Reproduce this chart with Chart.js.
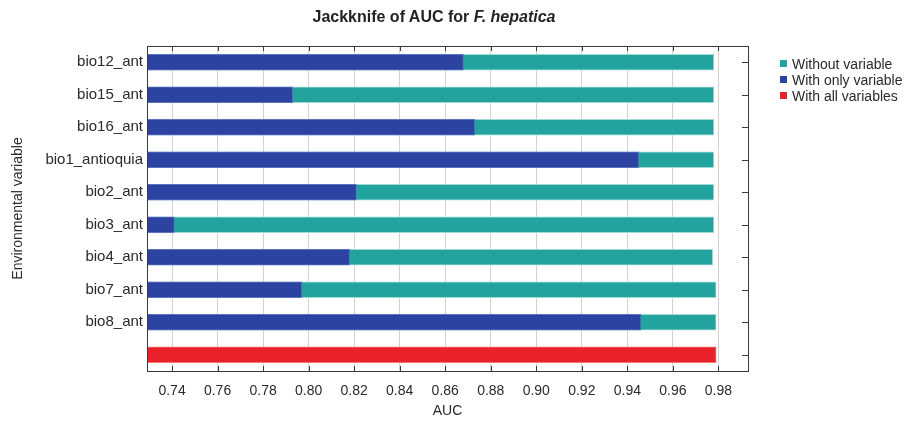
<!DOCTYPE html>
<html>
<head>
<meta charset="utf-8">
<title>Jackknife of AUC</title>
<script src="https://cdn.jsdelivr.net/npm/chart.js@4.4.1/dist/chart.umd.min.js"></script>
<style>
    body { margin: 0; background: #fff; font-family: Arial, "Liberation Sans", sans-serif; }
    #wrap { position: relative; width: 916px; height: 423px; }
    #title { position: absolute; left: 0; top: 8px; width: 868px; text-align: center; font-weight: bold; font-size: 16px; color: #222; }
    #legend { position: absolute; left: 780px; top: 56px; font-size: 14px; color: #2a2a2a; }
    #legend div { height: 16px; line-height: 16px; white-space: nowrap; }
    #legend span { display: inline-block; width: 7px; height: 7px; margin-right: 5px; vertical-align: 2px; }
</style>
</head>
<body>
<div id="wrap">
    <div id="title">Jackknife of AUC for <i>F. hepatica</i></div>
    <canvas id="chart" width="916" height="423"></canvas>
    <div id="legend"></div>
</div>
<script>
const variables = ['bio12_ant', 'bio15_ant', 'bio16_ant', 'bio1_antioquia', 'bio2_ant', 'bio3_ant', 'bio4_ant', 'bio7_ant', 'bio8_ant'];
const withoutVariable = [0.978, 0.978, 0.978, 0.978, 0.978, 0.978, 0.9775, 0.979, 0.979];
const withOnlyVariable = [0.868, 0.793, 0.873, 0.945, 0.821, 0.741, 0.818, 0.797, 0.946];
const withAllVariables = 0.979;

const seriesNames = ['Without variable', 'With only variable', 'With all variables'];
const seriesColors = ['#22a39e', '#2c43a1', '#e8212a'];

// last row holds the "all variables" bar, with no label
const labels = [...variables, ''];
const allRow = labels.map((l, i) => (i === variables.length ? withAllVariables : null));

Chart.defaults.font.family = 'Arial, "Liberation Sans", sans-serif';
Chart.defaults.color = '#2a2a2a';

const framePlugin = {
    id: 'frame',
    afterDraw(chart) {
        const { ctx, chartArea: a, scales } = chart;
        ctx.save();
        ctx.strokeStyle = '#3a3a3a';
        ctx.lineWidth = 1;
        ctx.strokeRect(Math.round(a.left) + 0.5, Math.round(a.top) + 0.5, Math.round(a.width), Math.round(a.height));
        ctx.beginPath();
        scales.x.ticks.forEach((t) => {
            const x = Math.round(scales.x.getPixelForValue(t.value)) + 0.5;
            ctx.moveTo(x, a.top);
            ctx.lineTo(x, a.top + 5);
            ctx.moveTo(x, a.bottom);
            ctx.lineTo(x, a.bottom - 5);
        });
        scales.y.ticks.forEach((t, i) => {
            const y = Math.round(scales.y.getPixelForTick(i)) + 0.5;
            ctx.moveTo(a.right, y);
            ctx.lineTo(a.right - 6, y);
        });
        ctx.stroke();
        ctx.restore();
    },
};

const ctx = document.getElementById('chart').getContext('2d');
new Chart(ctx, {
    type: 'bar',
    data: {
        labels: labels,
        datasets: [
            {
                label: seriesNames[0],
                data: [...withoutVariable, null],
                backgroundColor: seriesColors[0],
                borderColor: '#9fdcd8',
                borderWidth: 1,
                order: 1,
            },
            {
                label: seriesNames[1],
                data: [...withOnlyVariable, null],
                backgroundColor: seriesColors[1],
                borderColor: '#5d73c0',
                borderWidth: 1,
                order: 0,
            },
            {
                label: seriesNames[2],
                data: allRow,
                backgroundColor: seriesColors[2],
                borderColor: '#f07a70',
                borderWidth: 1,
                order: 2,
            },
        ],
    },
    options: {
        responsive: false,
        animation: false,
        indexAxis: 'y',
        layout: { padding: { left: 0, top: 46, right: 168, bottom: 0 } },
        datasets: { bar: { grouped: false, barThickness: 16 } },
        plugins: {
            legend: { display: false },
            tooltip: { enabled: false },
        },
        scales: {
            x: {
                type: 'linear',
                min: 0.729,
                max: 0.993,
                afterFit: (scale) => { scale.height = 52; },
                grid: { color: '#d9cfcf', drawTicks: false },
                border: { display: false },
                ticks: {
                    stepSize: 0.02,
                    includeBounds: false,
                    padding: 12,
                    font: { size: 14 },
                    callback: (v) => Number(v).toFixed(2),
                },
                title: { display: true, text: 'AUC', font: { size: 14 }, padding: { top: 0, bottom: 3 } },
            },
            y: {
                type: 'category',
                afterFit: (scale) => { scale.width = 147; },
                grid: { display: false, drawTicks: false },
                border: { display: false },
                ticks: { padding: 4, font: { size: 15 } },
                title: { display: true, text: 'Environmental variable', font: { size: 14 }, padding: { top: 10, bottom: 0 } },
            },
        },
    },
    plugins: [framePlugin],
});

document.getElementById('legend').innerHTML = seriesNames
    .map((name, i) => `<div><span style="background:${seriesColors[i]}"></span>${name}</div>`)
    .join('');
</script>
</body>
</html>
